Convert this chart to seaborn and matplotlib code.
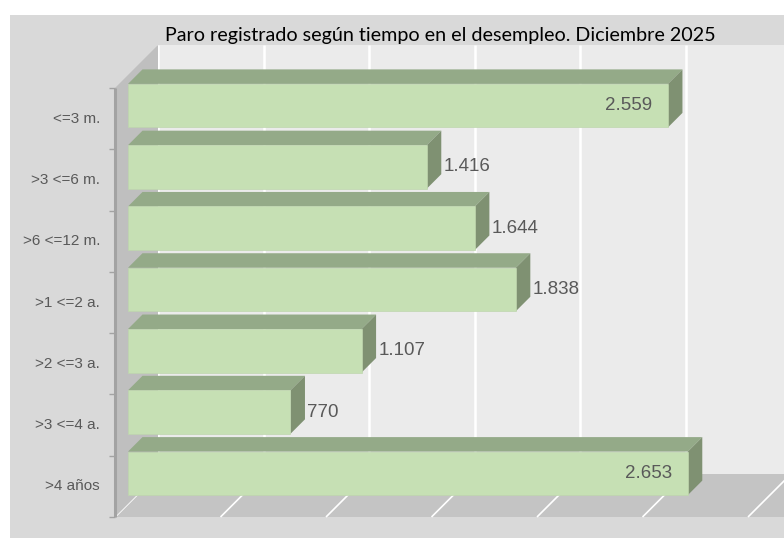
import numpy as np
import matplotlib
matplotlib.use("Agg")
import matplotlib.pyplot as plt
import seaborn as sns
from matplotlib.patches import Polygon, Rectangle

categories = ["<=3 m.", ">3 <=6 m.", ">6 <=12 m.", ">1 <=2 a.", ">2 <=3 a.", ">3 <=4 a.", ">4 años"]
values = [2559, 1416, 1644, 1838, 1107, 770, 2653]
labels = ["2.559", "1.416", "1.644", "1.838", "1.107", "770", "2.653"]
grid_ticks = [0, 500, 1000, 1500, 2000, 2500, 3000]
title = "Paro registrado según tiempo en el desempleo. Diciembre 2025"

front_col = "#c6e0b4"
top_col = "#94aa88"
side_col = "#7f9172"
txt_col = "#595959"

sns.set_style("white")
plt.rcParams["font.family"] = ["Liberation Sans", "DejaVu Sans"]

fig = plt.figure(figsize=(7.84, 5.38), dpi=100)
fig.patch.set_facecolor("white")
fig.add_artist(Rectangle((10 / 784, 0), 1, 1 - 15 / 538, transform=fig.transFigure,
                         facecolor="#d9d9d9", edgecolor="none", zorder=-10))

ax = fig.add_axes([128 / 784, 1 - 504 / 538, 633 / 784, 429 / 538])
ax.patch.set_alpha(0)

sns.barplot(x=values, y=categories, orient="y", width=0.71, color=front_col,
            saturation=1, edgecolor="#bfd6ae", linewidth=0.5, ax=ax, zorder=5)
ax.set_xlim(0, 3000)
ax.set_ylim(6.5, -0.5)
ax.axis("off")

# pixels -> data units, so the depth can be drawn through the axes scales
p0 = ax.transData.transform((0, 0))
p1 = ax.transData.transform((1, 1))
sx = p1[0] - p0[0]
sy = p1[1] - p0[1]


def dep(x, y, d):
    # point (x, y) pushed d pixels into the depth (right and up on screen)
    return (x + d / sx, y + d / sy)


FRONT = -13
BAR_D = 14.5
BACK = 30
xmax = 3300
ymin, ymax = -0.5, 6.5


def poly(pts, color, z):
    p = Polygon(pts, closed=True, facecolor=color, edgecolor="none", zorder=z, clip_on=False)
    ax.add_patch(p)


def line(a, b, color, lw, z):
    ax.plot([a[0], b[0]], [a[1], b[1]], color=color, lw=lw, zorder=z, clip_on=False,
            solid_capstyle="butt")


# back wall
poly([dep(0, ymin, BACK), dep(xmax, ymin, BACK), dep(xmax, ymax, BACK), dep(0, ymax, BACK)], "#ebebeb", 0.1)
for g in grid_ticks:
    line(dep(g, ymin, BACK), dep(g, ymax, BACK), "white", 1.8, 0.2)

# floor
poly([dep(0, ymax, FRONT), dep(xmax, ymax, FRONT), dep(xmax, ymax, BACK), dep(0, ymax, BACK)], "#c4c4c4", 0.3)
for g in grid_ticks:
    line(dep(g, ymax, FRONT), dep(g, ymax, BACK), "white", 1.2, 0.4)

# left wall
poly([dep(0, ymin, FRONT), dep(0, ymax, FRONT), dep(0, ymax, BACK), dep(0, ymin, BACK)], "#bfbfbf", 0.5)
line(dep(0, ymin, FRONT), dep(0, ymax, FRONT), "#a3a3a3", 2.2, 0.6)
for k in range(len(categories) + 1):
    yb = k - 0.5
    line(dep(-6 / sx, yb, FRONT), dep(0, yb, FRONT), "#a3a3a3", 1.0, 0.6)

for i, c in enumerate(categories):
    px, py = dep(-15 / sx, i, FRONT)
    ax.text(px, py, c, ha="right", va="center", fontsize=11, color=txt_col, clip_on=False)

# 3d faces of the bars
bars = list(ax.patches)[:len(values)]
for b, v, lab in zip(bars, values, labels):
    x0, yt = b.get_x(), b.get_y()
    h = b.get_height()
    x1 = x0 + b.get_width()
    yb = yt + h
    poly([(x0, yt), (x1, yt), dep(x1, yt, BAR_D), dep(x0, yt, BAR_D)], top_col, 4)
    poly([(x1, yt), (x1, yb), dep(x1, yb, BAR_D), dep(x1, yt, BAR_D)], side_col, 4)
    yc = yt + h / 2
    if v > 2000:
        ax.text(x1 - 16 / sx, yc, lab, ha="right", va="center", fontsize=13.5, color=txt_col, zorder=7)
    else:
        ax.text(x1 + 17 / sx, yc, lab, ha="left", va="center", fontsize=13.5, color=txt_col,
                zorder=7, clip_on=False)

fig.text(440 / 784, 1 - 36 / 538, title, ha="center", va="center", fontsize=14.2,
         family=["Lato", "DejaVu Sans"], color="black")

fig.savefig("out.png", dpi=100)
